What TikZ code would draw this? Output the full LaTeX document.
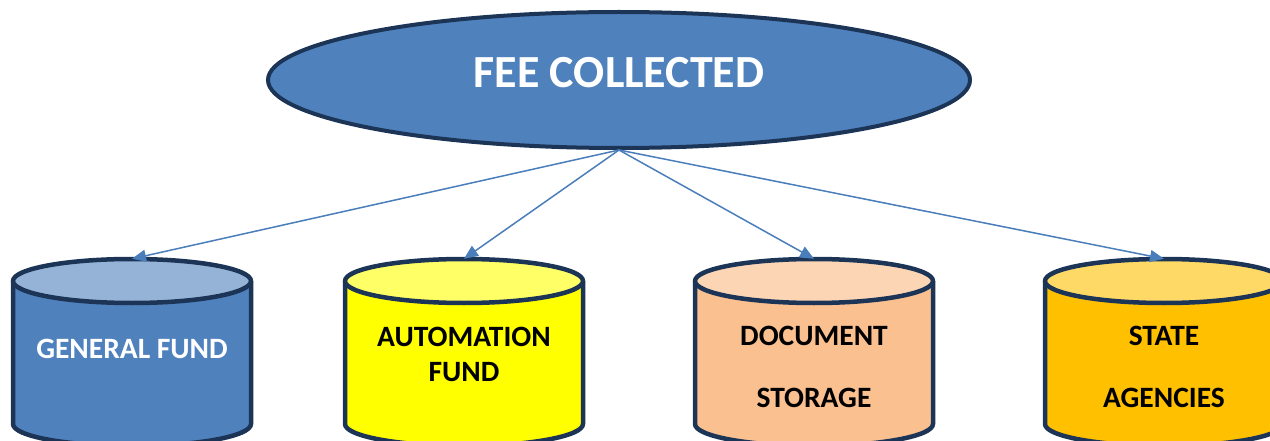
\documentclass[tikz,border=0pt]{standalone}
\usepackage{fontspec}
\setmainfont{Carlito}
\usetikzlibrary{shapes.geometric,arrows.meta}

\definecolor{rim}{HTML}{1C3456}
\definecolor{feeblue}{HTML}{4F81BD}
\definecolor{linkblue}{HTML}{4A7EBB}
\definecolor{gfbody}{HTML}{4F81BD}
\definecolor{gftop}{HTML}{95B3D7}
\definecolor{afbody}{HTML}{FFFF00}
\definecolor{aftop}{HTML}{FFFF66}
\definecolor{dsbody}{HTML}{FAC090}
\definecolor{dstop}{HTML}{FCD5B5}
\definecolor{sabody}{HTML}{FFC000}
\definecolor{satop}{HTML}{FFD966}

% drum: #1 node name, #2 centre x, #3 body colour, #4 lid colour
\newcommand\drum[4]{%
  \fill[#3] (#2-119,281) -- (#2-119,424)
    arc[start angle=180,end angle=0,x radius=119,y radius=22] -- (#2+119,281) -- cycle;
  \draw[drumline] (#2-119,281) -- (#2-119,424)
    arc[start angle=180,end angle=0,x radius=119,y radius=22] -- (#2+119,281);
  \draw[drumline,fill=#4] (#2,281) ellipse[x radius=119,y radius=22];
  \node[drumframe] (#1) at (#2,352) {};
}

\begin{document}
\begin{tikzpicture}[x=1pt,y=-1pt,
  drumline/.style={draw=rim,line width=4.5pt,line join=round},
  drumframe/.style={rectangle,inner sep=0pt,minimum width=238pt,minimum height=186pt},
  drumtext/.style={font=\bfseries\fontsize{29.5}{35}\selectfont,inner sep=0pt,anchor=center},
  link/.style={draw=linkblue,line width=1.5pt,-{Triangle[length=14pt,width=12pt]}},
]
\useasboundingbox (0,0) rectangle (1270,441);
\clip (0,0) rectangle (1270,441);

% source of the fee
\node[ellipse,draw=rim,line width=4pt,fill=feeblue,inner sep=0pt,
      minimum width=702pt,minimum height=136pt] (fee) at (619,80) {};
\node[drumtext,text=white,font=\bfseries\fontsize{46}{52}\selectfont] (feelabel) at (619,73) {FEE COLLECTED};

% the four destinations
\drum{gf}{132}{gfbody}{gftop}
\drum{af}{464}{afbody}{aftop}
\drum{ds}{814}{dsbody}{dstop}
\drum{sa}{1164}{sabody}{satop}

\node[drumtext,text=white] (gflabel) at (132,349) {GENERAL FUND};
\node[drumtext] (aflabel1) at (464,337) {AUTOMATION};
\node[drumtext] (aflabel2) at (464,372) {FUND};
\node[drumtext] (dslabel1) at (814,336) {DOCUMENT};
\node[drumtext] (dslabel2) at (814,398) {STORAGE};
\node[drumtext] (salabel1) at (1164,336) {STATE};
\node[drumtext] (salabel2) at (1164,398) {AGENCIES};

% distribution arrows
\draw[link] (fee.south) -- (gf.north);
\draw[link] (fee.south) -- (af.north);
\draw[link] (fee.south) -- (ds.north);
\draw[link] (fee.south) -- (sa.north);
\end{tikzpicture}
\end{document}
